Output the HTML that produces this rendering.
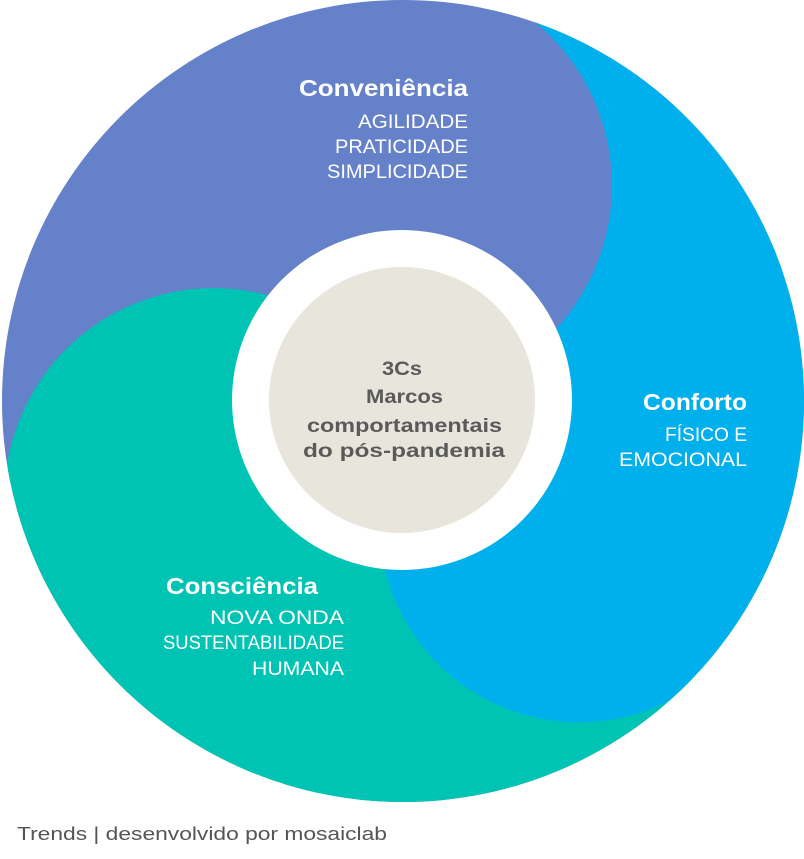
<!DOCTYPE html>
<html><head><meta charset="utf-8"><style>
html,body{margin:0;padding:0;background:#fff;width:804px;height:859px;overflow:hidden}
svg{display:block}
text{font-family:"Liberation Sans",sans-serif}
.h{font-weight:bold;font-size:23px;fill:#fff}
.s{font-size:19px;fill:#fff}
.c{font-weight:bold;font-size:19px;fill:#5a5a5a}
</style></head><body>
<svg width="804" height="859" viewBox="0 0 804 859" xmlns="http://www.w3.org/2000/svg">
<defs><clipPath id="oc"><circle cx="403" cy="401" r="401"/></clipPath></defs>
<g clip-path="url(#oc)">
<rect x="0" y="0" width="804" height="859" fill="#6581c9"/>
<path d="M8,460 A209,209 0 0 1 396,395 L900,700 L900,860 L0,860 Z" fill="#00c4b3"/>
<path d="M520,-10 L900,-10 L900,800 L689,689.5 A200,200 0 0 1 385,570 L402,400 L555,330 A212,212 0 0 0 535,22 Z" fill="#00b0ec"/>
</g>
<circle cx="402" cy="400" r="170" fill="#fff"/>
<circle cx="402" cy="400" r="133" fill="#e8e5dd"/>
<text class="h" x="299" y="96" textLength="169" lengthAdjust="spacingAndGlyphs">Conveniência</text>
<text class="s" x="358" y="128" textLength="110" lengthAdjust="spacingAndGlyphs">AGILIDADE</text>
<text class="s" x="335" y="153" textLength="133" lengthAdjust="spacingAndGlyphs">PRATICIDADE</text>
<text class="s" x="327" y="178" textLength="141" lengthAdjust="spacingAndGlyphs">SIMPLICIDADE</text>
<text class="h" x="643" y="410" textLength="104" lengthAdjust="spacingAndGlyphs">Conforto</text>
<text class="s" x="665" y="441" textLength="82" lengthAdjust="spacingAndGlyphs">FÍSICO E</text>
<text class="s" x="619" y="466" textLength="128" lengthAdjust="spacingAndGlyphs">EMOCIONAL</text>
<text class="h" x="166" y="594" textLength="152" lengthAdjust="spacingAndGlyphs">Consciência</text>
<text class="s" x="210" y="624" textLength="134" lengthAdjust="spacingAndGlyphs">NOVA ONDA</text>
<text class="s" x="163" y="649" textLength="181" lengthAdjust="spacingAndGlyphs">SUSTENTABILIDADE</text>
<text class="s" x="252" y="675" textLength="92" lengthAdjust="spacingAndGlyphs">HUMANA</text>
<text class="c" x="382" y="375" textLength="40" lengthAdjust="spacingAndGlyphs">3Cs</text>
<text class="c" x="366" y="403" textLength="77" lengthAdjust="spacingAndGlyphs">Marcos</text>
<text class="c" x="307" y="432" textLength="195" lengthAdjust="spacingAndGlyphs">comportamentais</text>
<text class="c" x="303" y="457" textLength="202" lengthAdjust="spacingAndGlyphs">do pós-pandemia</text>
<text x="17" y="840" font-size="18" fill="#555" textLength="370" lengthAdjust="spacingAndGlyphs">Trends |  desenvolvido por mosaiclab</text>
</svg>
</body></html>
